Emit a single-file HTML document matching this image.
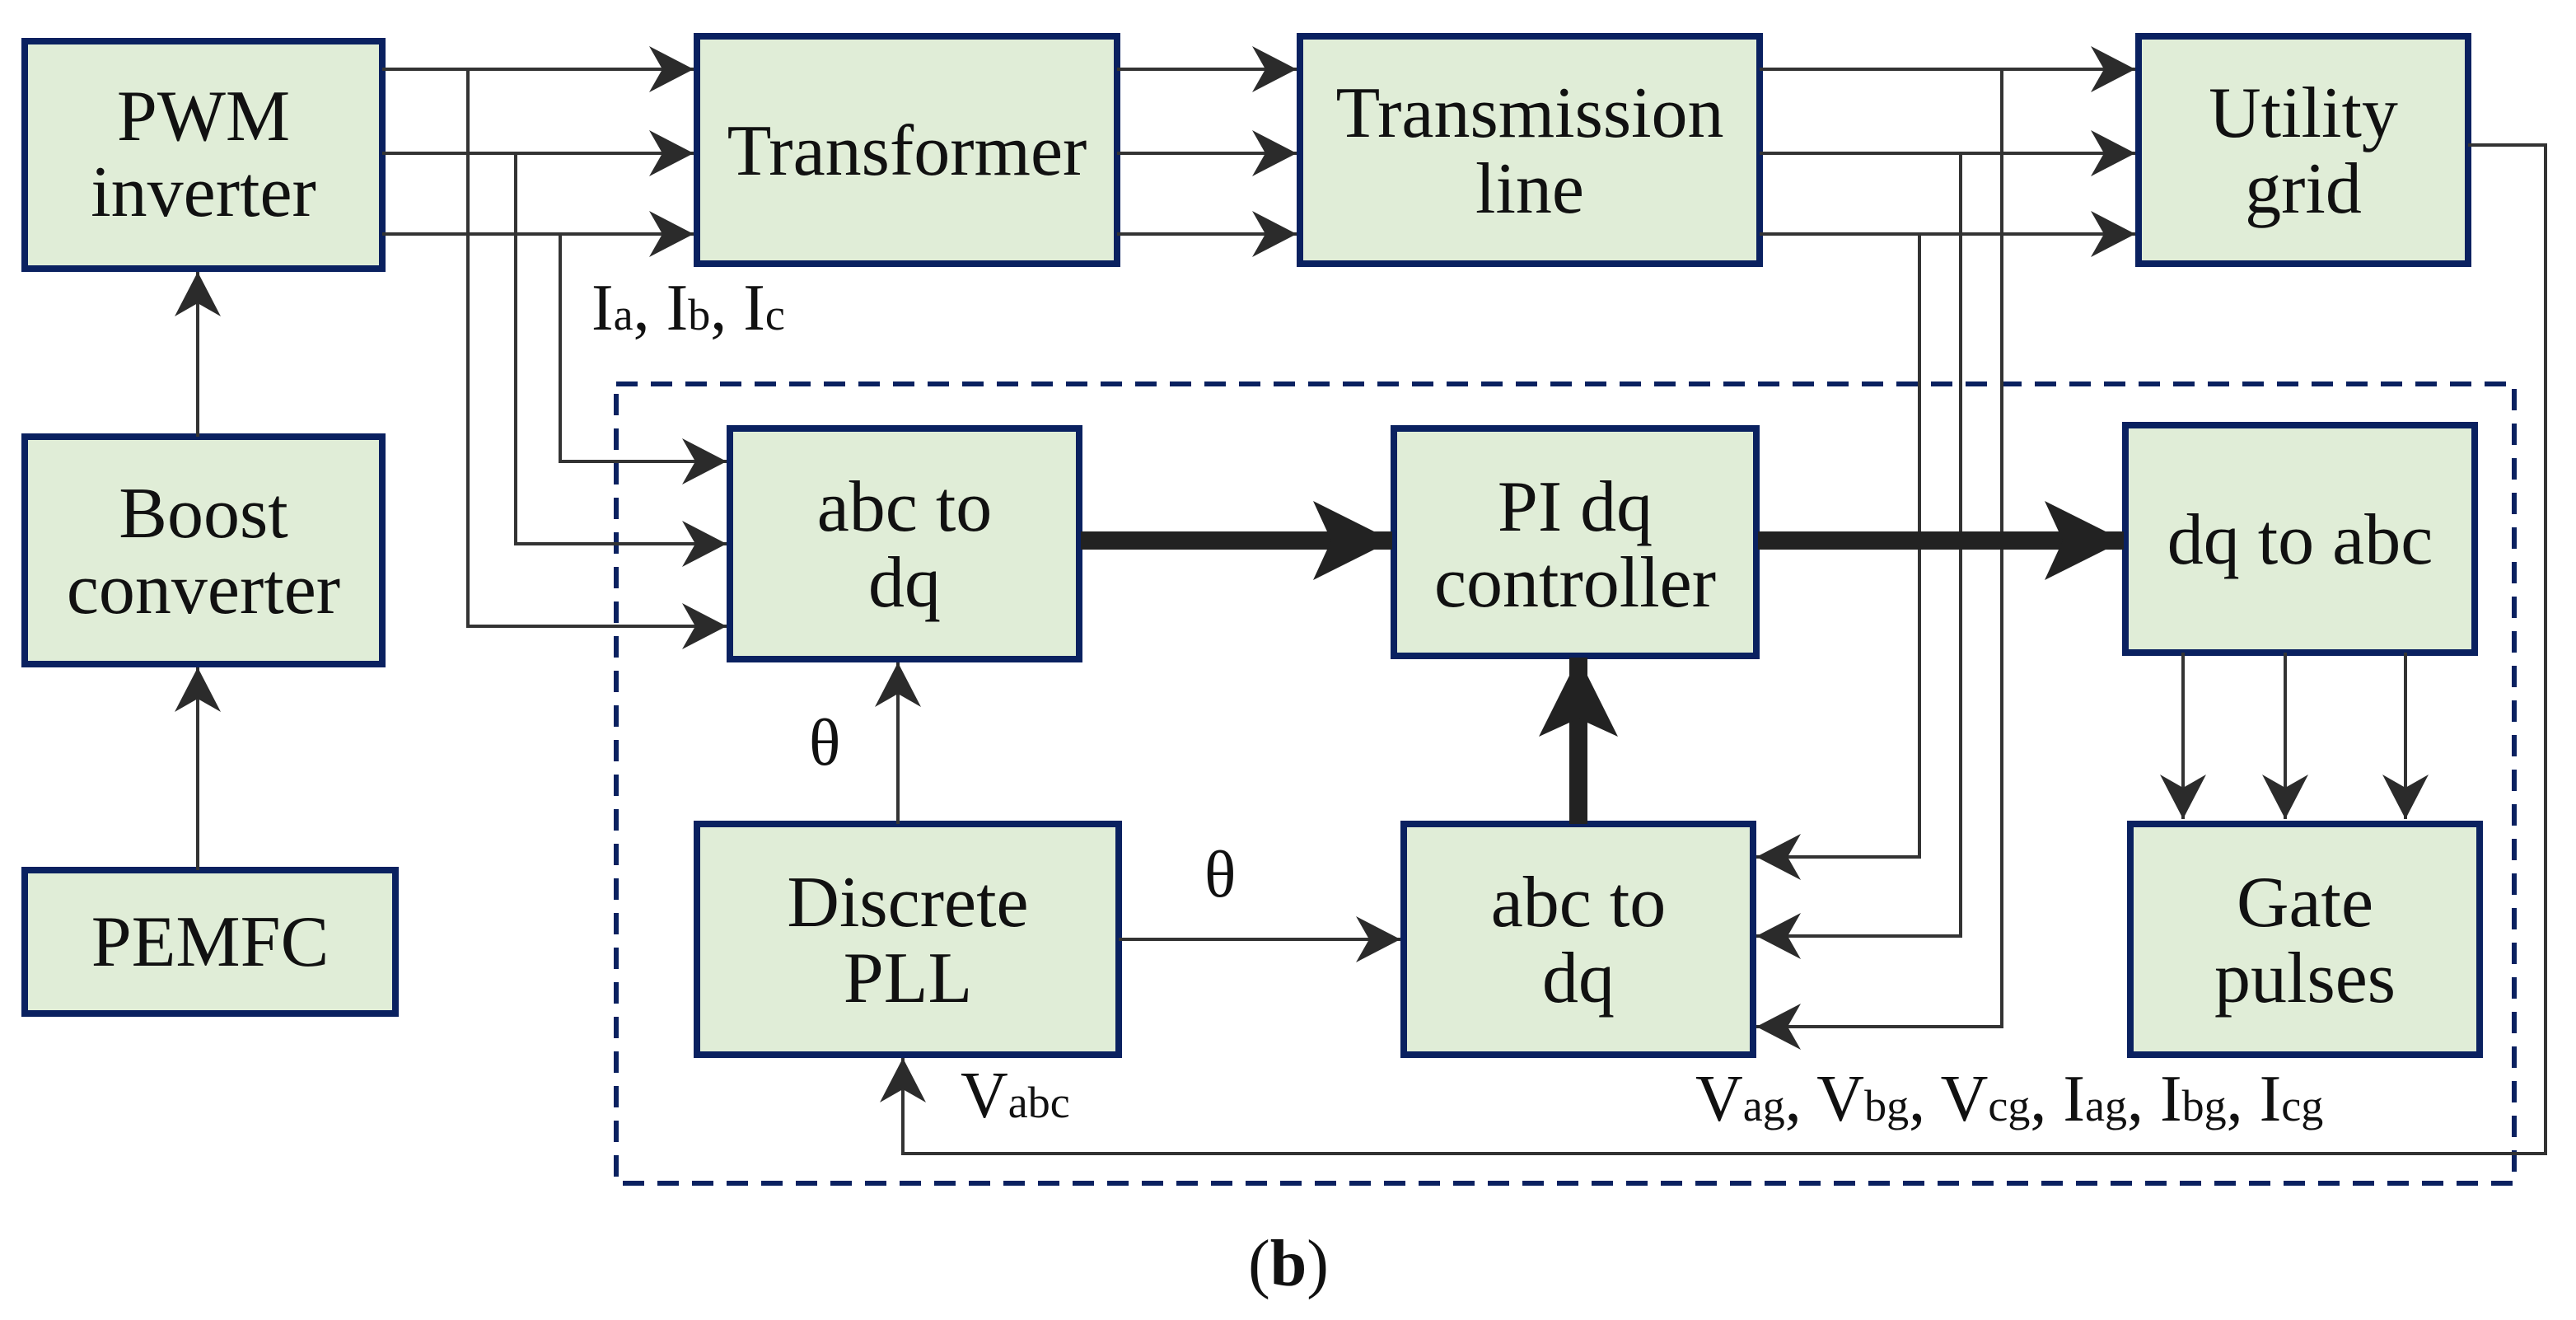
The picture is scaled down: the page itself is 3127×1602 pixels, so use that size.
<!DOCTYPE html>
<html><head><meta charset="utf-8"><style>
html,body{margin:0;padding:0;background:#fff;}
svg{display:block;}
.t{font-family:"Liberation Serif",serif;font-size:88px;fill:#111;text-anchor:middle;}
.l{font-family:"Liberation Serif",serif;font-size:80px;fill:#111;}
.s{font-size:54px;}
</style></head><body>
<svg width="3127" height="1602" viewBox="0 0 3127 1602" xmlns="http://www.w3.org/2000/svg">
<defs>
<marker id="a" viewBox="0 0 54 56" refX="54" refY="28" markerWidth="54" markerHeight="56" markerUnits="userSpaceOnUse" orient="auto">
<path d="M54,28 L0,0 L16,28 L0,56 Z" fill="#2b2b2b"/></marker>
<marker id="b" viewBox="0 0 96 96" refX="96" refY="48" markerWidth="96" markerHeight="96" markerUnits="userSpaceOnUse" orient="auto">
<path d="M96,48 L0,0 L22,48 L0,96 Z" fill="#222"/></marker>
</defs>
<g fill="#e0edd7" stroke="#0a2160" stroke-width="8">
<rect x="30" y="50" width="434" height="276"/>
<rect x="846" y="44" width="510" height="276"/>
<rect x="1578" y="44" width="558" height="276"/>
<rect x="2596" y="44" width="400" height="276"/>
<rect x="30" y="530" width="434" height="276"/>
<rect x="30" y="1056" width="450" height="174"/>
<rect x="886" y="520" width="424" height="280"/>
<rect x="1692" y="520" width="440" height="276"/>
<rect x="2580" y="516" width="424" height="276"/>
<rect x="846" y="1000" width="512" height="280"/>
<rect x="1704" y="1000" width="424" height="280"/>
<rect x="2586" y="1000" width="424" height="280"/>
</g>
<rect x="748" y="466" width="2304" height="970" fill="none" stroke="#0a2160" stroke-width="6" stroke-dasharray="26,16"/>
<g stroke="#333" stroke-width="4" fill="none">
<line x1="464" y1="84" x2="842" y2="84" marker-end="url(#a)"/>
<line x1="464" y1="186" x2="842" y2="186" marker-end="url(#a)"/>
<line x1="464" y1="284" x2="842" y2="284" marker-end="url(#a)"/>
<line x1="1356" y1="84" x2="1574" y2="84" marker-end="url(#a)"/>
<line x1="1356" y1="186" x2="1574" y2="186" marker-end="url(#a)"/>
<line x1="1356" y1="284" x2="1574" y2="284" marker-end="url(#a)"/>
<line x1="2136" y1="84" x2="2592" y2="84" marker-end="url(#a)"/>
<line x1="2136" y1="186" x2="2592" y2="186" marker-end="url(#a)"/>
<line x1="2136" y1="284" x2="2592" y2="284" marker-end="url(#a)"/>
<polyline points="568,84 568,760 882,760" marker-end="url(#a)"/>
<polyline points="626,186 626,660 882,660" marker-end="url(#a)"/>
<polyline points="680,284 680,560 882,560" marker-end="url(#a)"/>
<polyline points="2430,84 2430,1246 2132,1246" marker-end="url(#a)"/>
<polyline points="2380,186 2380,1136 2132,1136" marker-end="url(#a)"/>
<polyline points="2330,284 2330,1040 2132,1040" marker-end="url(#a)"/>
<polyline points="2996,176 3090,176 3090,1400 1096,1400 1096,1284" marker-end="url(#a)"/>
<line x1="1090" y1="1000" x2="1090" y2="804" marker-end="url(#a)"/>
<line x1="1358" y1="1140" x2="1700" y2="1140" marker-end="url(#a)"/>
<line x1="2650" y1="792" x2="2650" y2="994" marker-end="url(#a)"/>
<line x1="2774" y1="792" x2="2774" y2="994" marker-end="url(#a)"/>
<line x1="2920" y1="792" x2="2920" y2="994" marker-end="url(#a)"/>
<line x1="240" y1="530" x2="240" y2="330" marker-end="url(#a)"/>
<line x1="240" y1="1056" x2="240" y2="810" marker-end="url(#a)"/>
</g>
<g stroke="#222" stroke-width="22">
<line x1="1312" y1="656" x2="1690" y2="656" marker-end="url(#b)"/>
<line x1="2134" y1="656" x2="2578" y2="656" marker-end="url(#b)"/>
<line x1="1916" y1="1000" x2="1916" y2="798" marker-end="url(#b)"/>
</g>
<text class="t" x="247" y="170">PWM</text><text class="t" x="247" y="262">inverter</text>
<text class="t" x="1101" y="212">Transformer</text>
<text class="t" x="1857" y="166">Transmission</text><text class="t" x="1857" y="258">line</text>
<text class="t" x="2796" y="166">Utility</text><text class="t" x="2796" y="258">grid</text>
<text class="t" x="247" y="652">Boost</text><text class="t" x="247" y="744">converter</text>
<text class="t" x="255" y="1172">PEMFC</text>
<text class="t" x="1098" y="644">abc to</text><text class="t" x="1098" y="736">dq</text>
<text class="t" x="1912" y="644">PI dq</text><text class="t" x="1912" y="736">controller</text>
<text class="t" x="2792" y="684">dq to abc</text>
<text class="t" x="1102" y="1124">Discrete</text><text class="t" x="1102" y="1216">PLL</text>
<text class="t" x="1916" y="1124">abc to</text><text class="t" x="1916" y="1216">dq</text>
<text class="t" x="2798" y="1124">Gate</text><text class="t" x="2798" y="1216">pulses</text>
<text class="l" x="718" y="400">I<tspan class="s">a</tspan>, I<tspan class="s">b</tspan>, I<tspan class="s">c</tspan></text>
<text class="l" x="982" y="928" font-size="76">θ</text>
<text class="l" x="1462" y="1088" font-size="76">θ</text>
<text class="l" x="1166" y="1356">V<tspan class="s">abc</tspan></text>
<text class="l" x="2058" y="1360">V<tspan class="s">ag</tspan>, V<tspan class="s">bg</tspan>, V<tspan class="s">cg</tspan>, I<tspan class="s">ag</tspan>, I<tspan class="s">bg</tspan>, I<tspan class="s">cg</tspan></text>
<text class="l" x="1564" y="1560" text-anchor="middle" font-size="76">(<tspan font-weight="bold">b</tspan>)</text>
</svg>
</body></html>
